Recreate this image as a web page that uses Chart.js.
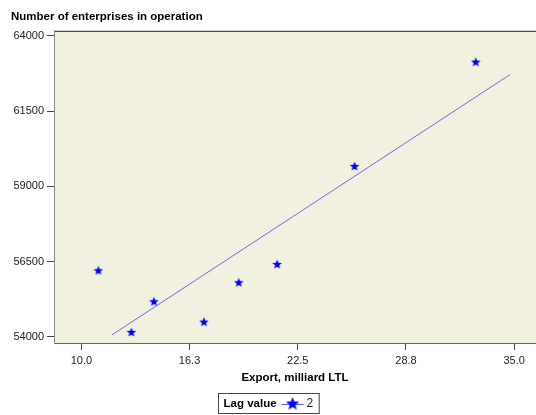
<!DOCTYPE html>
<html>
<head>
<meta charset="utf-8">
<script src="https://cdn.jsdelivr.net/npm/chart.js@4"></script>
<style>
html, body { margin: 0; padding: 0; background: #fff; overflow: hidden; }
</style>
</head>
<body>
<canvas id="chart" width="536" height="415"></canvas>
<script>
// values
const exportValues = [10.98, 12.89, 14.19, 17.08, 19.09, 21.31, 25.78, 32.78];
const enterprises = [56214, 54166, 55185, 54508, 55816, 56424, 59677, 63140];
const fitX = [11.76, 34.75]; // fitted line ends
const fitY = [54066, 62709];
const xTicks = [10, 16.25, 22.5, 28.75, 35];
const yTicks = [54000, 56500, 59000, 61500, 64000];
const lagLabel = 'Lag value';
const lagValue = '2';

const FONT = 'Arial, "Liberation Sans", sans-serif';

// filled five point star used as marker
function makeStar(size, color) {
    const c = document.createElement('canvas');
    c.width = size; c.height = size;
    const g = c.getContext('2d');
    const cx = size / 2, cy = size / 2 + 0.5;
    const outer = size / 2, inner = size / 4.6;
    g.beginPath();
    for (let i = 0; i < 10; i++) {
        const r = i % 2 === 0 ? outer : inner;
        const a = -Math.PI / 2 + i * Math.PI / 5;
        const px = cx + r * Math.cos(a), py = cy + r * Math.sin(a);
        if (i === 0) g.moveTo(px, py); else g.lineTo(px, py);
    }
    g.closePath();
    g.fillStyle = color;
    g.fill();
    return c;
}
const star = makeStar(10, '#0000ff');
const bigStar = makeStar(14, '#0000ff');

const plotBackground = {
    id: 'plotBackground',
    beforeDraw(chart) {
        const { ctx, chartArea: a } = chart;
        ctx.save();
        ctx.fillStyle = '#f2f0df';
        ctx.fillRect(a.left, a.top, a.right - a.left, a.bottom - a.top);
        ctx.strokeStyle = '#222';
        ctx.lineWidth = 1;
        ctx.beginPath();
        ctx.moveTo(a.left, a.top + 0.5);
        ctx.lineTo(a.right, a.top + 0.5);
        ctx.stroke();
        ctx.restore();
    }
};

const lagLegend = {
    id: 'lagLegend',
    afterDraw(chart) {
        const ctx = chart.ctx;
        ctx.save();
        ctx.font = 'bold 11.5px ' + FONT;
        const w1 = ctx.measureText(lagLabel).width;
        ctx.font = '12px ' + FONT;
        const w2 = ctx.measureText(lagValue).width;
        const lineW = 22;
        const boxW = 5 + w1 + 5 + lineW + 3 + w2 + 6;
        const boxH = 20;
        const x0 = Math.round(chart.width / 2 - boxW / 2) + 0.5;
        const y0 = 393.5;
        ctx.strokeStyle = '#444';
        ctx.lineWidth = 1;
        ctx.strokeRect(x0, y0, boxW, boxH);
        const cy = y0 + boxH / 2;
        ctx.textBaseline = 'middle';
        ctx.fillStyle = '#000';
        ctx.font = 'bold 11.5px ' + FONT;
        ctx.fillText(lagLabel, x0 + 5, cy);
        const lx = x0 + 5 + w1 + 5;
        ctx.strokeStyle = '#6060f0';
        ctx.beginPath();
        ctx.moveTo(lx, Math.round(cy) + 0.5);
        ctx.lineTo(lx + lineW, Math.round(cy) + 0.5);
        ctx.stroke();
        ctx.drawImage(bigStar, lx + lineW / 2 - 7, cy - 7);
        ctx.font = '12px ' + FONT;
        ctx.fillStyle = '#222';
        ctx.fillText(lagValue, lx + lineW + 3, cy);
        ctx.restore();
    }
};

const ctx = document.getElementById('chart').getContext('2d');

new Chart(ctx, {
    type: 'scatter',
    data: {
        datasets: [{
            label: 'Lag 2',
            data: exportValues.map((x, i) => ({ x: x, y: enterprises[i] })),
            pointStyle: star,
            pointRadius: 5,
            showLine: false,
            order: 1
        }, {
            label: 'Fit',
            data: fitX.map((x, i) => ({ x: x, y: fitY[i] })),
            showLine: true,
            borderColor: '#6a6af2',
            borderWidth: 1,
            pointRadius: 0,
            order: 2
        }]
    },
    options: {
        responsive: false,
        animation: false,
        layout: { autoPadding: false, padding: { left: 11, top: 0, right: 0, bottom: 0 } },
        plugins: {
            legend: { display: false },
            tooltip: { enabled: false },
            title: {
                display: true,
                text: 'Number of enterprises in operation',
                align: 'start',
                color: '#000',
                font: { family: FONT, size: 11.5, weight: 'bold' },
                padding: { top: 10, bottom: 7 }
            }
        },
        scales: {
            x: {
                type: 'linear',
                min: 8.42,
                max: 36.26,
                afterBuildTicks: s => { s.ticks = xTicks.map(v => ({ value: v })); },
                afterFit: s => { s.height = 72; s.paddingLeft = 0; s.paddingRight = 0; },
                grid: { drawOnChartArea: false, drawTicks: true, tickLength: 7, tickColor: '#444' },
                border: { display: true, color: '#666', width: 1 },
                ticks: {
                    color: '#222',
                    padding: 4,
                    maxRotation: 0,
                    font: { family: FONT, size: 11 },
                    callback: v => v.toFixed(1)
                },
                title: {
                    display: true,
                    text: 'Export, milliard LTL',
                    color: '#000',
                    font: { family: FONT, size: 11.5, weight: 'bold' },
                    padding: { top: 0, bottom: 30 }
                }
            },
            y: {
                type: 'linear',
                min: 53800,
                max: 64166,
                afterBuildTicks: s => { s.ticks = yTicks.map(v => ({ value: v })); },
                afterFit: s => { s.width = 43; s.paddingTop = 0; s.paddingBottom = 0; },
                grid: { drawOnChartArea: false, drawTicks: true, tickLength: 7, tickColor: '#444' },
                border: { display: true, color: '#888', width: 1 },
                ticks: {
                    color: '#222',
                    padding: 3,
                    font: { family: FONT, size: 11 },
                    callback: v => String(v)
                }
            }
        }
    },
    plugins: [plotBackground, lagLegend]
});
</script>
</body>
</html>
